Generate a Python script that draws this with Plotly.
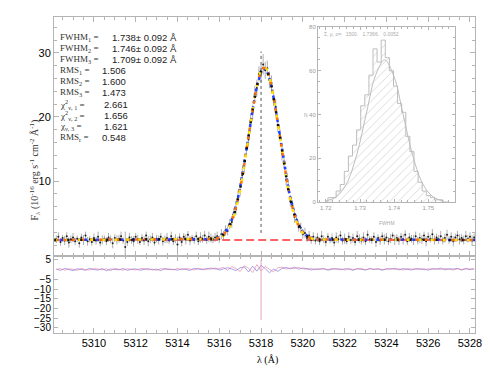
import numpy as np
import plotly.graph_objects as go

# spectrum, sampled every 0.1 A from 5308.2 to 5328.2
wave = np.round(5308.2 + 0.1 * np.arange(201), 1)
flux = [
    0.9, 1.3, 0.5, 1.1, 0.7, 1.4, 0.4, 0.9, 1.2, 0.6,
    1.0, 0.3, 1.2, 0.8, 1.5, 0.6, 0.9, 0.5, 1.1, 0.7,
    1.3, 0.4, 0.8, 1.0, 0.6, 1.2, 0.9, 0.3, 1.1, 0.8,
    1.0, 1.4, 0.7, -0.3, 0.5, 1.2, 0.8, 0.6, 1.3, 0.9,
    0.5, 1.1, 0.7, 1.5, 0.6, 0.9, 1.2, 0.4, 1.0, 0.8,
    1.3, 0.6, 0.9, 1.1, 0.7, 1.4, 0.6, 1.0, 0.1, 1.2,
    0.5, 1.3, 0.9, 1.6, 0.7, 1.1, 0.8, 1.4, 0.6, 1.2,
    1.0, 1.5, 0.8, 1.3, 1.1, 0.9, 1.2,
    1.4, 0.9, 1.7, 1.5, 2.3, 2.2, 3.3, 3.6, 5.0, 5.6,
    7.5, 8.5, 10.9, 12.3, 15.0, 16.5, 19.4, 20.8, 23.6, 24.5,
    26.7, 26.8, 28.2, 27.3, 27.6, 25.8, 25.3, 22.8, 21.6, 18.7,
    17.2, 14.3, 12.9, 10.2, 9.1, 6.9, 6.2, 4.4, 4.0, 2.8,
    2.7, 1.7, 1.9, 1.1, 1.5, 0.8, 1.3, 0.7,
    1.2, 0.6, 1.4, 0.9, 0.5, 1.3, 0.8, 1.1, 0.4, 1.2,
    0.9, 1.5, 0.7, 1.0, 0.6, 1.3, 0.8, 1.1, 0.5, 1.4,
    1.0, 0.7, 1.2, 0.6, 1.6, 0.9, 0.8, 1.3, 0.5, 1.1,
    0.7, 1.4, 0.9, 1.2, 0.6, 1.0, 1.5, 0.8, 1.1, 0.7,
    1.3, 0.9, 1.6, 0.6, 1.2, 1.0, 0.8, 1.4, 0.7, 1.1,
    0.9, 1.5, 0.6, 1.3, 1.0, 1.7, 0.8, 1.2, 0.9, 1.4,
    0.7, 1.1, 1.6, 0.8, 1.3, 0.6, 1.2, 1.5, 0.9, 1.1,
    0.8, 1.4, 1.0, 1.3, 0.7, 1.2,
]
flux_err = [
    0.6, 0.7, 0.6, 0.5, 0.7, 0.6, 0.8, 0.6, 0.7, 0.6,
    0.5, 0.7, 0.6, 0.8, 0.6, 0.7, 0.5, 0.6, 0.7, 0.6,
    0.8, 0.6, 0.7, 0.5, 0.6, 0.7, 0.6, 0.8, 0.6, 0.7,
    0.6, 0.7, 0.5, 2.4, 0.6, 0.7, 0.6, 0.8, 0.6, 0.7,
    0.5, 0.6, 0.7, 0.6, 0.8, 0.6, 0.7, 0.5, 0.6, 0.7,
    0.6, 0.7, 0.6, 0.8, 0.5, 0.7, 0.6, 0.7, 1.2, 0.6,
    0.7, 0.6, 0.8, 0.6, 0.7, 0.5, 0.6, 0.7, 0.6, 0.8,
    0.6, 0.7, 0.6, 0.8, 0.7, 0.6, 0.7,
    0.7, 0.6, 0.8, 0.7, 0.8, 0.7, 0.8, 0.9, 0.8, 0.9,
    1.0, 0.9, 1.0, 1.1, 1.0, 1.1, 1.2, 1.1, 1.2, 1.3,
    1.2, 1.3, 1.6, 1.3, 1.2, 1.3, 1.2, 1.1, 1.2, 1.1,
    1.0, 1.1, 1.0, 0.9, 1.0, 0.9, 0.8, 0.9, 0.8, 0.7,
    0.8, 0.7, 0.8, 0.6, 0.7, 0.6, 0.7, 0.6,
    0.7, 0.6, 0.8, 0.6, 0.7, 0.6, 0.5, 0.7, 0.6, 0.8,
    0.6, 0.7, 0.6, 0.8, 0.5, 0.7, 0.6, 0.7, 0.6, 0.8,
    0.7, 0.6, 0.8, 0.6, 0.7, 0.5, 0.6, 0.7, 0.8, 0.6,
    0.7, 0.6, 0.8, 0.7, 0.6, 0.7, 0.5, 0.8, 0.6, 0.7,
    0.6, 0.8, 0.7, 0.6, 0.7, 0.6, 0.8, 0.7, 0.6, 0.8,
    0.7, 0.6, 0.8, 0.7, 0.6, 0.8, 0.7, 0.6, 0.7, 0.8,
    0.6, 0.7, 0.8, 0.6, 0.7, 0.8, 0.6, 0.7, 0.8, 0.6,
    0.7, 0.8, 0.6, 0.7, 0.8, 0.6,
]

# the three gaussian fits (continuum 0.8 outside 5315.6-5320.7)
continuum = 0.8
fit_wave = [5308.1] + list(np.round(5315.6 + 0.1 * np.arange(52), 1)) + [5328.25]
fit1 = [0.87, 0.91, 0.97, 1.06, 1.19, 1.37, 1.62, 1.96, 2.42, 3.01, 3.76, 4.70, 5.85,
        7.21, 8.79, 10.58, 12.55, 14.66, 16.85, 19.05, 21.18, 23.14, 24.84, 26.20, 27.15,
        27.64, 27.64, 27.15, 26.20, 24.84, 23.14, 21.18, 19.05, 16.85, 14.66, 12.55, 10.58,
        8.79, 7.21, 5.85, 4.70, 3.76, 3.01, 2.42, 1.96, 1.62, 1.37, 1.19, 1.06, 0.97, 0.91, 0.87]
fit2 = [0.88, 0.93, 1.00, 1.10, 1.24, 1.44, 1.71, 2.07, 2.56, 3.18, 3.95, 4.92, 6.08,
        7.46, 9.04, 10.82, 12.77, 14.85, 17.00, 19.15, 21.22, 23.13, 24.78, 26.10, 27.02,
        27.50, 27.50, 27.02, 26.10, 24.78, 23.13, 21.22, 19.15, 17.00, 14.85, 12.77, 10.82,
        9.04, 7.46, 6.08, 4.92, 3.95, 3.18, 2.56, 2.07, 1.71, 1.44, 1.24, 1.10, 1.00, 0.93, 0.88]
fit3 = [0.86, 0.89, 0.94, 1.02, 1.14, 1.31, 1.54, 1.86, 2.29, 2.86, 3.59, 4.51, 5.64,
        7.00, 8.58, 10.38, 12.37, 14.51, 16.74, 18.98, 21.16, 23.17, 24.91, 26.31, 27.30,
        27.82, 27.82, 27.30, 26.31, 24.91, 23.17, 21.16, 18.98, 16.74, 14.51, 12.37, 10.38,
        8.58, 7.00, 5.64, 4.51, 3.59, 2.86, 2.29, 1.86, 1.54, 1.31, 1.14, 1.02, 0.94, 0.89, 0.86]

line_center = 5318.0
line_marker_y = [1.9, 30.2]

# residuals, every 0.2 A
resid_wave = np.round(5308.2 + 0.2 * np.arange(101), 1)
resid1 = [0.3, -0.4, 0.6, 0.1, -0.5, 0.4, 0.2, -0.3, 0.7, 0.0,
          -0.2, 0.5, -0.6, 0.3, 0.1, -0.1, 0.6, -0.4, 0.2, 0.4,
          -0.3, 0.1, 0.5, -0.2, 0.3, -0.5, 0.6, 0.0, 0.2, -0.3,
          0.4, 0.1, -0.4, 0.7, 0.2, -0.1, 0.5, 0.3, 0.8, -0.2,
          0.4, 1.0, 0.3, -0.5, 0.9, 1.4, -1.2, 1.8, -0.8, 2.2,
          0.5, -1.6, 0.3, -0.9, 0.6, 1.1, 0.4, 1.3, 0.2, 0.8,
          0.5, -0.2, 0.4, 0.1, 0.6, -0.3, 0.2, 0.5, -0.1, 0.4,
          0.3, -0.4, 0.5, 0.2, -0.2, 0.6, 0.1, 0.3, -0.3, 0.4,
          0.2, 0.7, -0.1, 0.5, 0.3, -0.2, 0.6, 0.1, 0.4, -0.3,
          0.5, 0.2, 0.8, -0.1, 0.4, 0.3, 0.6, -0.2, 0.5, 0.1,
          0.3]
resid2 = [0.1, 0.5, -0.3, 0.4, 0.2, -0.4, 0.6, 0.0, -0.2, 0.5,
          0.3, -0.1, 0.4, -0.5, 0.6, 0.2, -0.3, 0.5, 0.1, -0.2,
          0.4, 0.6, -0.1, 0.3, -0.4, 0.5, 0.1, 0.4, -0.2, 0.6,
          0.0, 0.5, 0.3, -0.2, 0.6, 0.4, 0.1, 0.9, 0.2, 0.6,
          1.1, -0.3, 1.5, 0.6, -1.0, 2.0, 0.8, -1.5, 2.6, -0.6,
          1.7, 0.2, -1.1, 0.9, 1.3, 0.3, 0.8, 0.5, 1.2, 0.4,
          0.2, 0.6, -0.1, 0.5, 0.3, 0.0, 0.6, 0.2, 0.4, -0.2,
          0.5, 0.1, 0.3, 0.6, -0.1, 0.4, 0.2, 0.5, 0.0, 0.3,
          0.6, 0.1, 0.4, -0.2, 0.5, 0.3, 0.1, 0.6, -0.1, 0.4,
          0.2, 0.5, 0.0, 0.6, 0.3, -0.2, 0.4, 0.1, 0.5, 0.2,
          0.4]
resid_spike_y = [5.0, -26.0]

# FWHM histogram of the monte carlo runs
hist_center = [1.7200, 1.7212, 1.7224, 1.7236, 1.7248, 1.7260, 1.7272, 1.7284, 1.7296,
               1.7308, 1.7320, 1.7332, 1.7344, 1.7356, 1.7368, 1.7380, 1.7392, 1.7404,
               1.7416, 1.7428, 1.7440, 1.7452, 1.7464, 1.7476, 1.7488, 1.7500, 1.7512,
               1.7524, 1.7536, 1.7548, 1.7560]
hist_count = [0, 2, 2, 5, 8, 14, 21, 26, 33, 44, 49, 58, 70, 64, 74, 66, 60, 53, 45, 41,
              30, 23, 14, 9, 5, 3, 2, 1, 1, 0, 0]
gfit_x = [1.7200, 1.7230, 1.7260, 1.7290, 1.7320, 1.7345, 1.7372, 1.7400, 1.7425,
          1.7455, 1.7485, 1.7515, 1.7545]
gfit_y = [0.5, 2.3, 8.2, 21.4, 41.6, 57.7, 65.0, 57.1, 40.8, 20.8, 7.9, 2.2, 0.45]

stat_labels = ["FWHM<sub>1</sub> =", "FWHM<sub>2</sub> =", "FWHM<sub>3</sub> =",
               "RMS<sub>1</sub> =", "RMS<sub>2</sub> =", "RMS<sub>3</sub> =",
               "χ<sup>2</sup><sub>ν, 1</sub> =", "χ<sup>2</sup><sub>ν, 2</sub> =",
               "χ<sub>ν, 3</sub> =", "RMS<sub>r</sub> ="]
stat_values = ["1.738± 0.092 Å", "1.746± 0.092 Å", "1.709± 0.092 Å",
               "1.506", "1.600", "1.473", "2.661", "1.656", "1.621", "0.548"]
stat_value_px = [110, 110, 110, 100, 100, 100, 102, 102, 102, 100]

# page body has an 8px margin, so the figure is drawn 8px smaller and
# all pixel positions below are given in screenshot coordinates
OFF = 8
W, H = 490 - OFF, 368 - OFF
PX0, PX1, PY0, PY1 = 54, 475, 17, 333          # plot area in screenshot pixels
L, T = PX0 - OFF, PY0 - OFF
R, B = (W + OFF) - PX1, (H + OFF) - PY1
pw, ph = PX1 - PX0, PY1 - PY0


def px_x(px):
    return (px - PX0) / pw


def px_y(py):
    return (PY1 - py) / ph


split = px_y(256)
FRAME = "#b4b4b4"

fig = go.Figure()

# main panel
fig.add_trace(go.Scatter(x=[fit_wave[0], fit_wave[-1]], y=[continuum, continuum], mode="lines",
                         line=dict(color="#ff3030", width=1.5, dash="8px,4px"),
                         xaxis="x", yaxis="y"))
fig.add_trace(go.Scatter(x=wave, y=flux, mode="markers",
                         marker=dict(color="#222", size=2),
                         error_y=dict(type="data", array=flux_err, color="#777", thickness=0.6, width=0),
                         xaxis="x", yaxis="y"))
fit_styles = [(fit2, "#2040ff", "3px,3px"), (fit1, "#ff7000", "3px,6px"),
              (fit3, "#ffe000", "3px,9px"), (fit1, "#111111", "2px,11px")]
for fv, col, dash in fit_styles:
    fig.add_trace(go.Scatter(x=fit_wave, y=[continuum] + fv + [continuum], mode="lines",
                             line=dict(color=col, width=2.5, dash=dash), xaxis="x", yaxis="y"))
fig.add_trace(go.Scatter(x=[line_center, line_center], y=line_marker_y, mode="lines",
                         line=dict(color="#555", width=1, dash="dot"), xaxis="x", yaxis="y"))

# residual panel
fig.add_trace(go.Scatter(x=resid_wave, y=resid1, mode="lines",
                         line=dict(color="rgba(90,90,230,0.55)", width=1), xaxis="x2", yaxis="y2"))
fig.add_trace(go.Scatter(x=resid_wave, y=resid2, mode="lines",
                         line=dict(color="rgba(225,110,140,0.55)", width=1), xaxis="x2", yaxis="y2"))
fig.add_trace(go.Scatter(x=[line_center, line_center], y=resid_spike_y, mode="lines",
                         line=dict(color="rgba(230,140,165,0.8)", width=1), xaxis="x2", yaxis="y2"))

# inset histogram
fig.add_trace(go.Bar(x=hist_center, y=hist_count, width=0.0012,
                     marker=dict(color="white", line=dict(width=0),
                                 pattern=dict(shape="/", fgcolor="#cfcfcf", size=6, solidity=0.12)),
                     xaxis="x3", yaxis="y3"))
fig.add_trace(go.Scatter(x=hist_center, y=hist_count, mode="lines",
                         line=dict(shape="hvh", color="#bdbdbd", width=1), xaxis="x3", yaxis="y3"))
fig.add_trace(go.Scatter(x=gfit_x, y=gfit_y, mode="lines",
                         line=dict(shape="spline", color="#bdbdbd", width=1), xaxis="x3", yaxis="y3"))

tickfont = dict(family="Liberation Sans", size=11, color="black")
axis_common = dict(showline=True, linecolor=FRAME, linewidth=1, mirror="ticks", ticks="inside",
                   tickcolor=FRAME, showgrid=False, zeroline=False, tickfont=tickfont,
                   automargin=False)

fig.update_layout(
    template="none",
    width=W, height=H, margin=dict(l=L, r=R, t=T, b=B, autoexpand=False),
    paper_bgcolor="white", plot_bgcolor="white", showlegend=False, bargap=0,
    xaxis=dict(axis_common, domain=[0, 1], anchor="y", range=[5308.09, 5328.24],
               dtick=2, ticklen=5, showticklabels=False,
               minor=dict(dtick=0.5, ticklen=3, ticks="inside", tickcolor=FRAME)),
    yaxis=dict(axis_common, domain=[split, 1], anchor="x", range=[-1.7, 35.6],
               tickvals=[10, 20, 30], ticklen=5,
               minor=dict(dtick=2, ticklen=3, ticks="inside", tickcolor=FRAME)),
    xaxis2=dict(axis_common, domain=[0, 1], anchor="y2", matches="x", range=[5308.09, 5328.24],
                dtick=2, ticklen=5,
                minor=dict(dtick=0.5, ticklen=3, ticks="inside", tickcolor=FRAME)),
    yaxis2=dict(axis_common, domain=[0, split], anchor="x2", range=[-32.6, 7],
                tickvals=[5, -5, -10, -15, -20, -25, -30], ticklen=4,
                tickfont=dict(family="Liberation Sans", size=10, color="black")),
    xaxis3=dict(axis_common, domain=[px_x(318), px_x(455)], anchor="y3",
                range=[1.7177, 1.7578], tickvals=[1.72, 1.73, 1.74, 1.75], ticklen=3,
                tickfont=dict(family="Liberation Sans", size=6, color="#999"),
                minor=dict(dtick=0.002, ticklen=2, ticks="inside", tickcolor=FRAME)),
    yaxis3=dict(axis_common, domain=[px_y(202), px_y(27)], anchor="x3",
                range=[0, 80], dtick=20, ticklen=3,
                tickfont=dict(family="Liberation Sans", size=6, color="#999"),
                minor=dict(dtick=5, ticklen=2, ticks="inside", tickcolor=FRAME)),
)

ann = []
for i, (lab, val, vx) in enumerate(zip(stat_labels, stat_values, stat_value_px)):
    yy = px_y(37 + 11.2 * i)
    ann.append(dict(x=px_x(58), y=yy, xref="paper", yref="paper", text=lab, showarrow=False,
                    xanchor="left", yanchor="middle",
                    font=dict(family="Liberation Serif", size=9, color="#333")))
    ann.append(dict(x=px_x(vx), y=yy, xref="paper", yref="paper", text=val, showarrow=False,
                    xanchor="left", yanchor="middle",
                    font=dict(family="Liberation Sans", size=9.5, color="#222")))

ann.append(dict(x=px_x(25), y=px_y(118), xref="paper", yref="paper",
                text="F<sub>λ</sub> (10<sup>-16</sup> erg s<sup>-1</sup> cm<sup>-2</sup> Å<sup>-1</sup>)",
                textangle=-90, showarrow=False,
                font=dict(family="Liberation Serif", size=10, color="#333")))
ann.append(dict(x=px_x(267), y=px_y(352), xref="paper", yref="paper",
                text="λ (Å)", showarrow=False, yanchor="top",
                font=dict(family="Liberation Serif", size=10, color="black")))
ann.append(dict(x=0.03, y=0.99, xref="x3 domain", yref="y3 domain",
                text="Σ, μ, σ=   1500.   1.7366.   0.0052", showarrow=False,
                xanchor="left", yanchor="top",
                font=dict(family="Liberation Sans", size=5, color="#aaa")))
ann.append(dict(x=-0.12, y=0.5, xref="x3 domain", yref="y3 domain", text="N", showarrow=False,
                font=dict(family="Liberation Sans", size=5, color="#aaa")))
ann.append(dict(x=0.5, y=-0.09, xref="x3 domain", yref="y3 domain", text="FWHM", showarrow=False,
                yanchor="top", font=dict(family="Liberation Sans", size=5, color="#aaa")))
fig.update_layout(annotations=ann)

fig.write_html("out.html")
